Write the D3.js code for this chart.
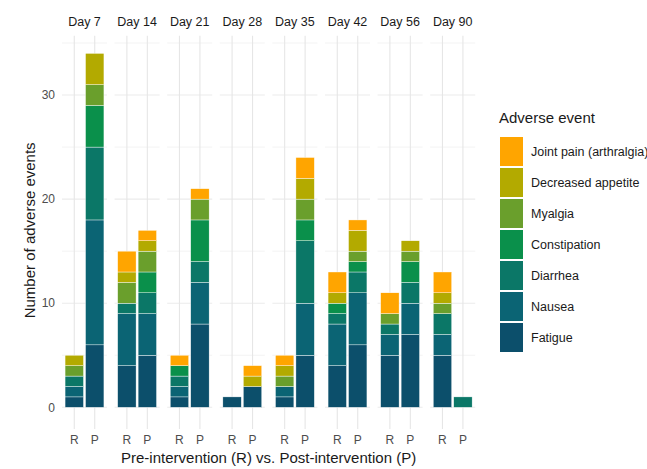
<!DOCTYPE html>
<html>
<head>
<meta charset="utf-8">
<script src="https://cdn.jsdelivr.net/npm/d3@7"></script>
<style>
  body { margin: 0; background: #fff; }
  text { font-family: "Liberation Sans", Arial, sans-serif; }
</style>
</head>
<body>
<div id="chart"></div>
<script>
// facets and groups
var days = ["Day 7", "Day 14", "Day 21", "Day 28", "Day 35", "Day 42", "Day 56", "Day 90"];
var phases = ["R", "P"];

// stacking order, bottom to top
var events = ["Fatigue", "Nausea", "Diarrhea", "Constipation", "Myalgia", "Decreased appetite", "Joint pain (arthralgia)"];
var colours = ["#0c4f6b", "#0b6474", "#0b7767", "#0a904b", "#6a9f2c", "#b3aa00", "#ffa500"];

// counts per bar: D7 R, D7 P, D14 R, D14 P, ... D90 R, D90 P
var fatigue      = [1, 6, 4, 5, 1, 8, 1, 2, 1, 5, 4, 6, 5, 7, 5, 0];
var nausea       = [1, 12, 5, 4, 1, 4, 0, 0, 1, 5, 4, 5, 2, 3, 2, 0];
var diarrhea     = [1, 7, 1, 2, 1, 2, 0, 0, 0, 6, 1, 2, 1, 2, 2, 1];
var constipation = [0, 4, 0, 2, 1, 4, 0, 0, 0, 2, 1, 1, 0, 2, 0, 0];
var myalgia      = [1, 2, 2, 2, 0, 2, 0, 0, 1, 2, 0, 1, 1, 1, 1, 0];
var appetite     = [1, 3, 1, 1, 0, 0, 0, 1, 1, 2, 1, 2, 0, 1, 1, 0];
var jointPain    = [0, 0, 2, 1, 1, 1, 0, 1, 1, 2, 2, 1, 2, 0, 2, 0];

var yTicks = [0, 10, 20, 30];
var yGrid = [0, 5, 10, 15, 20, 25, 30, 35];

var series = [fatigue, nausea, diarrhea, constipation, myalgia, appetite, jointPain];

var rows = [];
days.forEach(function (day, i) {
  phases.forEach(function (ph, j) {
    var row = { day: day, phase: ph };
    events.forEach(function (ev, k) { row[ev] = series[k][i * 2 + j]; });
    rows.push(row);
  });
});

var stacked = d3.stack().keys(events)(rows);
var maxTotal = d3.max(rows, function (r) { return d3.sum(events, function (e) { return r[e]; }); });

var width = 647, height = 469;
var svg = d3.select("#chart").append("svg")
  .attr("width", width)
  .attr("height", height);

var panelTop = 35.7, panelBottom = 425;

var y = d3.scaleLinear()
  .domain([-maxTotal * 0.05, maxTotal * 1.05])
  .range([panelBottom, panelTop]);

var xPanel = d3.scaleBand()
  .domain(days)
  .range([62, 475.2])
  .paddingInner(0.1445)
  .paddingOuter(0);

var xBar = d3.scaleBand()
  .domain(phases)
  .range([0, xPanel.bandwidth()])
  .paddingInner(0.1)
  .paddingOuter(0.15);

var colour = d3.scaleOrdinal().domain(events).range(colours);

// panels
var panels = svg.selectAll("g.panel")
  .data(days)
  .enter()
  .append("g")
  .attr("class", "panel")
  .attr("transform", function (d) { return "translate(" + xPanel(d) + ",0)"; });

// horizontal grid
panels.selectAll("line.hgrid")
  .data(yGrid)
  .enter()
  .append("line")
  .attr("x1", 0)
  .attr("x2", xPanel.bandwidth())
  .attr("y1", function (d) { return y(d); })
  .attr("y2", function (d) { return y(d); })
  .style("stroke", "#ebebeb")
  .style("stroke-width", function (d) { return d % 10 === 0 ? 1.1 : 0.6; });

// vertical grid + ticks
panels.selectAll("line.vgrid")
  .data(phases)
  .enter()
  .append("line")
  .attr("x1", function (d) { return xBar(d) + xBar.bandwidth() / 2; })
  .attr("x2", function (d) { return xBar(d) + xBar.bandwidth() / 2; })
  .attr("y1", panelTop)
  .attr("y2", panelBottom + 4)
  .style("stroke", "#e6e6e6")
  .style("stroke-width", 1.1);

// strip labels
panels.append("text")
  .attr("x", xPanel.bandwidth() / 2)
  .attr("y", 22)
  .attr("dy", "0.35em")
  .style("text-anchor", "middle")
  .style("font-size", "12.5px")
  .style("fill", "#1a1a1a")
  .text(function (d) { return d; });

// x tick labels
panels.selectAll("text.xlab")
  .data(phases)
  .enter()
  .append("text")
  .attr("x", function (d) { return xBar(d) + xBar.bandwidth() / 2; })
  .attr("y", 440)
  .attr("dy", "0.35em")
  .style("text-anchor", "middle")
  .style("font-size", "12px")
  .style("fill", "#4d4d4d")
  .text(function (d) { return d; });

// stacked bars
svg.selectAll("g.layer")
  .data(stacked)
  .enter()
  .append("g")
  .attr("class", "layer")
  .style("fill", function (d) { return colour(d.key); })
  .selectAll("rect")
  .data(function (d) { return d.filter(function (s) { return s[1] > s[0]; }); })
  .enter()
  .append("rect")
  .attr("x", function (s) { return xPanel(s.data.day) + xBar(s.data.phase); })
  .attr("width", xBar.bandwidth())
  .attr("y", function (s) { return y(s[1]); })
  .attr("height", function (s) { return y(s[0]) - y(s[1]); })
  .style("stroke", "#ffffff")
  .style("stroke-width", 0.4);

// y axis labels
svg.selectAll("text.ylab")
  .data(yTicks)
  .enter()
  .append("text")
  .attr("x", 55)
  .attr("y", function (d) { return y(d); })
  .attr("dy", "0.35em")
  .style("text-anchor", "end")
  .style("font-size", "12px")
  .style("fill", "#4d4d4d")
  .text(function (d) { return d; });

// axis titles
svg.append("text")
  .attr("x", (62 + 475.2) / 2)
  .attr("y", 458)
  .attr("dy", "0.35em")
  .style("text-anchor", "middle")
  .style("font-size", "15px")
  .style("fill", "#1a1a1a")
  .text("Pre-intervention (R) vs. Post-intervention (P)");

svg.append("text")
  .attr("transform", "translate(30," + ((panelTop + panelBottom) / 2) + ") rotate(-90)")
  .attr("dy", "0.35em")
  .style("text-anchor", "middle")
  .style("font-size", "15px")
  .style("fill", "#1a1a1a")
  .text("Number of adverse events");

// legend (reversed, top = last stacked)
var legendItems = events.slice().reverse();
var legend = svg.append("g").attr("transform", "translate(499,0)");

legend.append("text")
  .attr("x", 0)
  .attr("y", 118)
  .attr("dy", "0.35em")
  .style("font-size", "15px")
  .style("fill", "#1a1a1a")
  .text("Adverse event");

var keys = legend.selectAll("g.key")
  .data(legendItems)
  .enter()
  .append("g")
  .attr("class", "key")
  .attr("transform", function (d, i) { return "translate(0," + (137 + i * 31) + ")"; });

keys.append("rect")
  .attr("x", 1)
  .attr("width", 23)
  .attr("height", 29)
  .style("fill", function (d) { return colour(d); });

keys.append("text")
  .attr("x", 32)
  .attr("y", 14.5)
  .attr("dy", "0.35em")
  .style("font-size", "12.5px")
  .style("fill", "#1a1a1a")
  .text(function (d) { return d; });
</script>
</body>
</html>
